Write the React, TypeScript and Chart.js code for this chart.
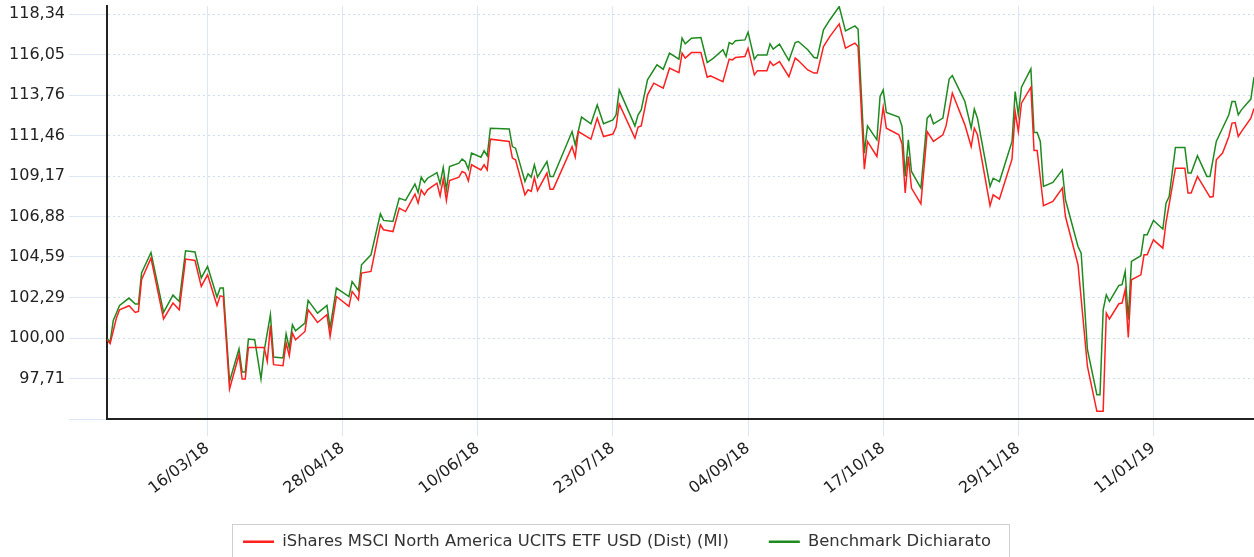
import React, { useEffect, useRef } from 'react';
import { Chart, registerables } from 'chart.js';

Chart.register(...registerables);

const fundName = 'iShares MSCI North America UCITS ETF USD (Dist) (MI)';
const benchName = 'Benchmark Dichiarato';

// x = days since 12/02/18
const fundDays = [
  0, 1, 3, 4, 7, 9, 10, 11, 14, 18,
  21, 23, 25, 28, 30, 32, 35, 36, 37, 39,
  42, 43, 44, 45, 50, 51, 52, 53, 56, 57,
  58, 59, 60, 63, 64, 67, 70, 71, 73, 77,
  78, 80, 81, 84, 87, 88, 91, 93, 95, 98,
  99, 100, 101, 102, 105, 106, 107, 108, 109, 112,
  113, 114, 115, 116, 119, 120, 121, 122, 128, 129,
  130, 133, 134, 135, 136, 137, 140, 141, 142, 148,
  149, 150, 154, 156, 158, 161, 162, 163, 168, 169,
  170, 172, 174, 177, 179, 182, 183, 184, 186, 189,
  191, 192, 196, 198, 199, 200, 203, 204, 206, 207,
  210, 211, 212, 214, 217, 219, 220, 223, 225, 226,
  228, 230, 233, 235, 238, 239, 241, 242, 245, 247,
  248, 252, 253, 254, 255, 256, 259, 261, 263, 266,
  267, 269, 273, 275, 276, 277, 281, 282, 284, 288,
  289, 290, 291, 294, 295, 296, 298, 301, 304, 305,
  309, 312, 315, 317, 318, 319, 322, 323, 324, 325,
  326, 329, 330, 331, 333, 336, 337, 340, 343, 344,
  345, 347, 351, 352, 353, 355, 357, 358, 359, 360,
  361, 364, 365,
];
const fundValues = [
  99.90, 99.68, 101.13, 101.60, 101.83, 101.45, 101.51, 103.30, 104.53, 101.08,
  101.98, 101.60, 104.47, 104.39, 102.92, 103.58, 101.84, 102.39, 102.35, 97.11,
  99.05, 97.68, 97.68, 99.47, 99.47, 98.68, 100.70, 98.49, 98.43, 99.72,
  99.00, 100.28, 99.90, 100.37, 101.60, 100.88, 101.32, 100.09, 102.35, 101.79,
  102.64, 102.17, 103.68, 103.77, 106.41, 106.13, 106.03, 107.36, 107.16, 108.15,
  107.64, 108.39, 108.11, 108.39, 108.77, 108.05, 109.00, 107.79, 108.92, 109.11,
  109.43, 109.34, 108.90, 109.81, 109.52, 109.81, 109.52, 111.26, 111.13, 110.19,
  110.09, 108.11, 108.39, 108.30, 109.09, 108.35, 109.34, 108.43, 108.43, 110.84,
  110.24, 111.69, 111.26, 112.45, 111.41, 111.55, 111.94, 113.26, 111.32, 111.94,
  112.01, 113.77, 114.43, 114.15, 115.28, 115.03, 116.13, 115.85, 116.16, 116.16,
  114.77, 114.84, 114.52, 115.79, 115.75, 115.88, 115.94, 116.41, 114.90, 115.14,
  115.14, 115.65, 115.43, 115.65, 114.80, 115.85, 115.71, 115.18, 115.00, 115.00,
  116.50, 117.07, 117.79, 116.41, 116.70, 116.50, 109.56, 111.13, 110.28, 113.07,
  111.88, 111.51, 111.00, 108.21, 110.28, 108.49, 107.60, 111.69, 111.13, 111.51,
  112.01, 113.87, 112.07, 110.84, 111.88, 111.51, 107.49, 108.11, 107.87, 110.13,
  112.82, 111.69, 113.30, 114.20, 110.62, 110.62, 107.49, 107.73, 108.49, 106.88,
  104.15, 98.39, 95.85, 95.85, 101.41, 101.08, 101.94, 101.98, 102.73, 100.03,
  103.30, 103.58, 104.71, 104.71, 105.56, 105.09, 106.54, 109.62, 109.62, 108.21,
  108.21, 109.15, 107.98, 108.01, 110.09, 110.47, 111.41, 112.17, 112.20, 111.41,
  111.69, 112.45, 113.00,
];

const benchDays = [
  0, 1, 2, 4, 7, 9, 10, 11, 14, 18,
  21, 23, 25, 28, 30, 32, 35, 36, 37, 39,
  42, 43, 44, 45, 47, 49, 50, 52, 53, 56,
  57, 58, 59, 60, 63, 64, 67, 70, 71, 73,
  77, 78, 80, 81, 84, 87, 88, 91, 93, 95,
  98, 99, 100, 101, 102, 105, 106, 107, 108, 109,
  112, 113, 114, 115, 116, 119, 120, 121, 122, 128,
  129, 130, 133, 134, 135, 136, 137, 140, 141, 142,
  148, 149, 151, 154, 156, 158, 161, 162, 163, 168,
  169, 170, 172, 175, 177, 179, 182, 183, 184, 186,
  189, 191, 193, 196, 197, 198, 199, 200, 203, 204,
  206, 207, 210, 211, 212, 214, 217, 219, 220, 223,
  225, 226, 228, 230, 233, 235, 238, 239, 241, 242,
  245, 246, 247, 248, 252, 253, 254, 255, 256, 259,
  261, 262, 263, 266, 268, 269, 273, 275, 276, 277,
  281, 282, 284, 288, 289, 290, 291, 294, 295, 296,
  297, 298, 301, 304, 305, 309, 310, 312, 315, 316,
  317, 318, 319, 322, 323, 324, 325, 326, 329, 330,
  331, 333, 336, 337, 338, 340, 343, 344, 345, 347,
  350, 351, 353, 354, 357, 358, 359, 360, 361, 364,
  365,
];
const benchValues = [
  99.95, 99.78, 101.00, 101.84, 102.26, 101.92, 101.92, 103.68, 104.84, 101.45,
  102.43, 102.07, 104.94, 104.87, 103.40, 104.05, 102.32, 102.83, 102.83, 97.54,
  99.38, 98.08, 98.08, 99.94, 99.90, 97.68, 99.24, 101.32, 98.92, 98.87,
  100.24, 99.43, 100.75, 100.41, 100.85, 102.13, 101.41, 101.84, 100.57, 102.83,
  102.35, 103.20, 102.69, 104.15, 104.71, 107.03, 106.66, 106.60, 107.92, 107.79,
  108.72, 108.24, 109.11, 108.81, 109.05, 109.37, 108.73, 109.65, 108.39, 109.71,
  109.90, 110.13, 109.99, 109.56, 110.47, 110.24, 110.60, 110.32, 111.88, 111.84,
  110.84, 110.75, 108.86, 109.30, 109.11, 109.81, 109.11, 109.99, 109.15, 109.15,
  111.69, 110.94, 112.51, 112.13, 113.20, 112.13, 112.35, 112.64, 114.05, 112.01,
  112.64, 112.92, 114.62, 115.47, 115.22, 116.13, 115.79, 116.98, 116.66, 116.98,
  117.01, 115.60, 115.85, 116.32, 115.94, 116.73, 116.64, 116.83, 116.88, 117.32,
  115.79, 116.03, 116.03, 116.66, 116.36, 116.64, 115.71, 116.73, 116.79, 116.32,
  115.88, 115.85, 117.45, 118.01, 118.77, 117.39, 117.67, 117.49, 110.47, 112.01,
  111.22, 113.67, 114.05, 112.77, 112.51, 111.98, 109.15, 111.22, 109.43, 108.49,
  112.45, 112.64, 112.13, 112.45, 114.66, 114.86, 113.39, 111.88, 112.96, 112.45,
  108.58, 109.05, 108.86, 111.13, 113.96, 112.64, 114.20, 115.24, 111.64, 111.64,
  111.13, 108.58, 108.81, 109.52, 107.83, 105.18, 104.81, 99.34, 96.79, 96.79,
  101.60, 102.45, 102.07, 102.98, 103.02, 103.77, 101.04, 104.34, 104.66, 105.85,
  105.85, 106.66, 106.17, 107.64, 108.01, 110.79, 110.79, 109.34, 109.34, 110.32,
  109.15, 109.15, 111.13, 111.51, 112.64, 113.39, 113.39, 112.64, 112.92, 113.53,
  114.77,
];

const xTickDays = [32, 75, 118, 161, 204, 247, 290, 333];
const xTickLabels = ['16/03/18', '28/04/18', '10/06/18', '23/07/18', '04/09/18', '17/10/18', '29/11/18', '11/01/19'];
const yTickValues = [95.415, 97.71, 100.0, 102.29, 104.59, 106.88, 109.17, 111.46, 113.76, 116.05, 118.34];

const FONT = "Verdana, 'DejaVu Sans', sans-serif";
const W = 1254;
const H = 557;
const LEGEND_SHIFT_X = -10;
const LEGEND_SHIFT_Y = 3;

const legendFrame = {
  id: 'legendFrame',
  afterLayout(chart: any) {
    const lg = chart.legend;
    if (!lg) return;
    lg.left += LEGEND_SHIFT_X;
    lg.right += LEGEND_SHIFT_X;
    lg.top += LEGEND_SHIFT_Y;
    lg.bottom += LEGEND_SHIFT_Y;
    (lg.legendHitBoxes || []).forEach((b: any) => {
      b.left += LEGEND_SHIFT_X;
      b.top += LEGEND_SHIFT_Y;
    });
  },
  afterDraw(chart: any) {
    const lg = chart.legend;
    if (!lg || !lg.legendHitBoxes || !lg.legendHitBoxes.length) return;
    const boxes = lg.legendHitBoxes;
    const left = Math.min(...boxes.map((b: any) => b.left)) - 11;
    const right = Math.max(...boxes.map((b: any) => b.left + b.width)) + 18;
    const top = Math.min(...boxes.map((b: any) => b.top)) - 13;
    const ctx = chart.ctx;
    ctx.save();
    ctx.strokeStyle = '#cfcfcf';
    ctx.lineWidth = 1;
    ctx.strokeRect(Math.round(left) + 0.5, Math.round(top) + 0.5, Math.round(right - left), chart.height - top + 4);
    ctx.restore();
  },
};

export default function App() {
  const ref = useRef<HTMLCanvasElement | null>(null);

  useEffect(() => {
    if (!ref.current) return;
    const chart = new Chart(ref.current, {
      type: 'line',
      data: {
        datasets: [
          {
            label: fundName,
            data: fundDays.map((d, i) => ({ x: d, y: fundValues[i] })),
            borderColor: '#ff2020',
            borderWidth: 1.5,
            pointRadius: 0,
            tension: 0,
            fill: false,
          },
          {
            label: benchName,
            data: benchDays.map((d, i) => ({ x: d, y: benchValues[i] })),
            borderColor: '#1f8a1f',
            borderWidth: 1.5,
            pointRadius: 0,
            tension: 0,
            fill: false,
          },
        ],
      },
      options: {
        animation: false,
        responsive: false,
        events: [],
        layout: { padding: { top: 6, left: 0, right: 0, bottom: 0 } },
        plugins: {
          tooltip: { enabled: false },
          legend: {
            position: 'bottom',
            labels: {
              usePointStyle: true,
              pointStyle: 'line',
              pointStyleWidth: 31,
              padding: 40,
              color: '#333',
              font: { family: FONT, size: 16.4 },
              generateLabels: (c: any) => {
                const items = Chart.defaults.plugins.legend.labels.generateLabels(c);
                items.forEach((it: any) => {
                  it.lineWidth = 2.5;
                  it.pointStyle = 'line';
                });
                return items;
              },
            },
          },
        },
        scales: {
          x: {
            type: 'linear',
            min: 0,
            max: 365,
            afterBuildTicks: (s: any) => {
              s.ticks = xTickDays.map((v) => ({ value: v }));
            },
            afterFit: (s: any) => {
              const lh = s.chart.legend ? s.chart.legend.height : 66;
              s.height = Math.max(60, H - 419 - lh);
              s.paddingLeft = 0;
              s.paddingRight = 0;
              // let the rotated labels run below the axis box without clipping
              s._computeLabelArea = () => undefined;
            },
            ticks: {
              autoSkip: false,
              minRotation: 38,
              maxRotation: 38,
              padding: 3,
              color: '#222',
              font: { family: FONT, size: 16 },
              callback: (_v: any, i: number) => xTickLabels[i],
            },
            grid: { color: '#dce7f3', lineWidth: 1, tickLength: 17, tickColor: '#dce7f3' },
            border: { color: '#222', width: 2 },
          },
          y: {
            type: 'linear',
            min: 95.415,
            max: 118.8,
            afterBuildTicks: (s: any) => {
              s.ticks = yTickValues.map((v) => ({ value: v }));
            },
            afterFit: (s: any) => {
              s.width = 107;
              s.paddingTop = 0;
              s.paddingBottom = 0;
            },
            ticks: {
              padding: 4,
              color: '#222',
              font: { family: FONT, size: 16 },
              callback: (v: any, i: number) => (i === 0 ? '' : Number(v).toFixed(2).replace('.', ',')),
            },
            grid: { color: '#cddcee', lineWidth: 1, tickLength: 38, tickColor: '#dce7f3', tickBorderDash: [] },
            border: { color: '#222', width: 2, dash: [2, 3] },
          },
        },
      },
      plugins: [legendFrame],
    } as any);
    return () => chart.destroy();
  }, []);

  return (
    <div style={{ position: 'fixed', left: 0, top: 0, width: W, height: H, background: '#fff' }}>
      <canvas ref={ref} width={W} height={H} style={{ display: 'block', width: W, height: H }} />
    </div>
  );
}
